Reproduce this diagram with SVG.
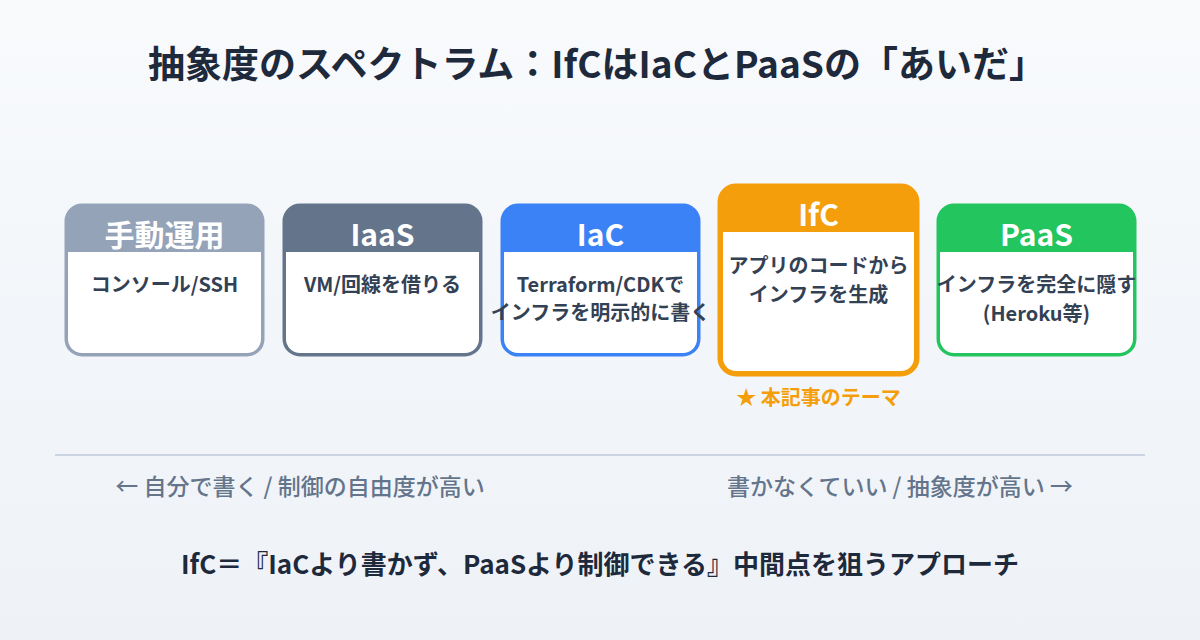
<svg xmlns="http://www.w3.org/2000/svg" width="1200" height="640" viewBox="0 0 1200 640">
<defs>
<linearGradient id="bg" x1="0" y1="0" x2="0" y2="1"><stop offset="0" stop-color="#f8fafc"/><stop offset="1" stop-color="#eef2f7"/></linearGradient>
<style>
text{font-family:"Noto Sans CJK JP","Noto Sans",sans-serif;font-weight:700;text-anchor:middle}
.h{fill:#fff;font-size:30px}
.b{fill:#334155;font-size:20px}
.s{fill:#64748b;font-size:23px;font-weight:500}
</style>
</defs>
<rect width="1200" height="640" fill="url(#bg)"/>
<text x="597" y="78" font-size="37" fill="#1e293b">抽象度のスペクトラム：IfCはIaCとPaaSの「あいだ」</text>
<g id="manual">
<rect x="66" y="205" width="197" height="150" rx="16" fill="#94a3b8"/>
<path d="M68 252H261V339A14 14 0 0 1 247 353H82A14 14 0 0 1 68 339Z" fill="#fff"/>
<rect x="66" y="205" width="197" height="150" rx="16" fill="none" stroke="#94a3b8" stroke-width="3"/>
<text class="h" x="164.5" y="246">手動運用</text>
<text class="b" x="164.5" y="292">コンソール/SSH</text>
</g>
<g id="iaas">
<rect x="284" y="205" width="197" height="150" rx="16" fill="#64748b"/>
<path d="M286 252H479V339A14 14 0 0 1 465 353H300A14 14 0 0 1 286 339Z" fill="#fff"/>
<rect x="284" y="205" width="197" height="150" rx="16" fill="none" stroke="#64748b" stroke-width="3"/>
<text class="h" x="382.5" y="246">IaaS</text>
<text class="b" x="382.5" y="292">VM/回線を借りる</text>
</g>
<g id="iac">
<rect x="502" y="205" width="197" height="150" rx="16" fill="#3b82f6"/>
<path d="M504 252H697V339A14 14 0 0 1 683 353H518A14 14 0 0 1 504 339Z" fill="#fff"/>
<rect x="502" y="205" width="197" height="150" rx="16" fill="none" stroke="#3b82f6" stroke-width="3"/>
<text class="h" x="600.5" y="246">IaC</text>
<text class="b" x="600.5" y="292">Terraform/CDKで</text>
<text class="b" x="600.5" y="320">インフラを明示的に書く</text>
</g>
<g id="ifc">
<rect x="720" y="186" width="197" height="188" rx="16" fill="#f59e0b"/>
<path d="M723 232H914V358A13 13 0 0 1 901 371H736A13 13 0 0 1 723 358Z" fill="#fff"/>
<rect x="720" y="186" width="197" height="188" rx="16" fill="none" stroke="#f59e0b" stroke-width="5"/>
<text class="h" x="818.5" y="226">IfC</text>
<text class="b" x="818.5" y="273">アプリのコードから</text>
<text class="b" x="818.5" y="302">インフラを生成</text>
<text x="818.5" y="405" font-size="20" fill="#f59e0b">★ 本記事のテーマ</text>
</g>
<g id="paas">
<rect x="938" y="205" width="197" height="150" rx="16" fill="#22c55e"/>
<path d="M940 252H1133V339A14 14 0 0 1 1119 353H954A14 14 0 0 1 940 339Z" fill="#fff"/>
<rect x="938" y="205" width="197" height="150" rx="16" fill="none" stroke="#22c55e" stroke-width="3"/>
<text class="h" x="1036.5" y="246">PaaS</text>
<text class="b" x="1036.5" y="292">インフラを完全に隠す</text>
<text class="b" x="1036.5" y="321">(Heroku等)</text>
</g>
<g id="connectors">
<line x1="55" y1="455" x2="1145" y2="455" stroke="#cbd5e1" stroke-width="2"/>
</g>
<text class="s" x="300" y="495">← 自分で書く / 制御の自由度が高い</text>
<text class="s" x="900" y="495">書かなくていい / 抽象度が高い →</text>
<text x="600" y="574" font-size="26" fill="#1e293b">IfC＝『IaCより書かず、PaaSより制御できる』中間点を狙うアプローチ</text>
</svg>
